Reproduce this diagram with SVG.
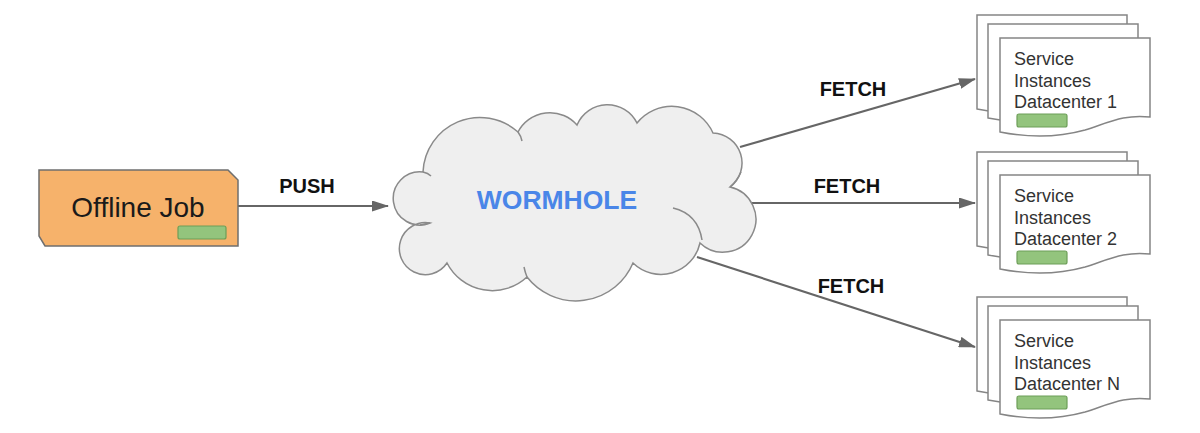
<svg xmlns="http://www.w3.org/2000/svg" width="1200" height="433" viewBox="0 0 1200 433">
<style>
  .bg { fill: #ffffff; }
  .job { fill: #f6b26b; stroke: #6f6f6f; stroke-width: 1.5; }
  .bar { fill: #93c47d; stroke: #6d9e58; stroke-width: 1.2; }
  .cloud { fill: #efefef; stroke: #8a8a8a; stroke-width: 1.5; }
  .cloudline { fill: none; stroke: #8a8a8a; stroke-width: 1.5; }
  .doc { fill: #ffffff; stroke: #858585; stroke-width: 1.5; }
  .conn { stroke: #666666; stroke-width: 2.2; fill: none; }
  .lbl { font-family: "Liberation Sans", Arial, sans-serif; font-weight: bold; font-size: 20px; fill: #111111; text-anchor: middle; }
  .jobtxt { font-family: "Liberation Sans", Arial, sans-serif; font-size: 28px; fill: #1a1a1a; text-anchor: middle; }
  .worm { font-family: "Liberation Sans", Arial, sans-serif; font-weight: bold; font-size: 26.5px; fill: #4a86e8; text-anchor: middle; }
  .svc { font-family: "Liberation Sans", Arial, sans-serif; font-size: 18px; fill: #333333; }
</style>
<defs>
  <marker id="arrow" viewBox="0 0 17 11" markerWidth="17" markerHeight="11" refX="16" refY="5.5" orient="auto" markerUnits="userSpaceOnUse">
    <path d="M0,0 L17,5.5 L0,11 Z" fill="#666666"/>
  </marker>
  <path id="docshape" d="M0,0 H150 V79 C125,76 110,84 85,92 C60,99 30,100 0,94 Z"/>
  <g id="stack">
    <use href="#docshape" class="doc" x="0" y="0"/>
    <use href="#docshape" class="doc" x="11" y="9"/>
    <use href="#docshape" class="doc" x="23" y="23"/>
  </g>
</defs>
<rect class="bg" x="0" y="0" width="1200" height="433"/>

<g id="connectors">
  <line class="conn" x1="238" y1="206" x2="388" y2="206" marker-end="url(#arrow)"/>
  <line class="conn" x1="740" y1="147" x2="975" y2="79" marker-end="url(#arrow)"/>
  <line class="conn" x1="752" y1="203" x2="975" y2="203" marker-end="url(#arrow)"/>
  <line class="conn" x1="697" y1="257" x2="975" y2="347" marker-end="url(#arrow)"/>
  <text class="lbl" x="307" y="193">PUSH</text>
  <text class="lbl" x="853" y="96">FETCH</text>
  <text class="lbl" x="847" y="193">FETCH</text>
  <text class="lbl" x="851" y="293">FETCH</text>
</g>

<g id="offline-job">
  <path class="job" d="M39,170 H228 L238,180 V246 H45 L39,236 Z"/>
  <text class="jobtxt" x="138" y="217">Offline Job</text>
  <rect class="bar" x="178" y="226" width="48" height="13" rx="2"/>
</g>

<g id="wormhole">
  <path class="cloud" d="M430,223
    A26.6,26.6 0 1 1 423,172
    A57,57 0 0 1 518,132
    A36,36 0 0 1 577,125
    A33,33 0 0 1 637,123
    A45,45 0 0 1 713,133
    A30,30 0 0 1 730,187
    A33,33 0 1 1 700,243
    A40,40 0 0 1 633,263
    A62,62 0 0 1 527,277
    A51,51 0 0 1 447,263
    A26,26 0 1 1 430,223 Z"/>
  <path class="cloudline" d="M673,208 Q698,214 702,240"/>
  <path class="cloudline" d="M730,187 Q737,181 741,172"/>
  <path class="cloudline" d="M518,132 Q521,136 522,141"/>
  <path class="cloudline" d="M423,172 Q428,173 431,176"/>
  <path class="cloudline" d="M430,223 Q425,224 420,225"/>
  <path class="cloudline" d="M527,277 Q525,272 524,267"/>
  <text class="worm" x="557" y="209">WORMHOLE</text>
</g>

<g id="dc1">
  <use href="#stack" x="977" y="15"/>
  <text class="svc" x="1014" y="65">Service</text>
  <text class="svc" x="1014" y="87">Instances</text>
  <text class="svc" x="1014" y="108">Datacenter 1</text>
  <rect class="bar" x="1017" y="114" width="50" height="13" rx="2"/>
</g>

<g id="dc2">
  <use href="#stack" x="977" y="152"/>
  <text class="svc" x="1014" y="202">Service</text>
  <text class="svc" x="1014" y="224">Instances</text>
  <text class="svc" x="1014" y="245">Datacenter 2</text>
  <rect class="bar" x="1017" y="251" width="50" height="13" rx="2"/>
</g>

<g id="dcN">
  <use href="#stack" x="977" y="297"/>
  <text class="svc" x="1014" y="347">Service</text>
  <text class="svc" x="1014" y="369">Instances</text>
  <text class="svc" x="1014" y="390">Datacenter N</text>
  <rect class="bar" x="1017" y="396" width="50" height="13" rx="2"/>
</g>
</svg>
